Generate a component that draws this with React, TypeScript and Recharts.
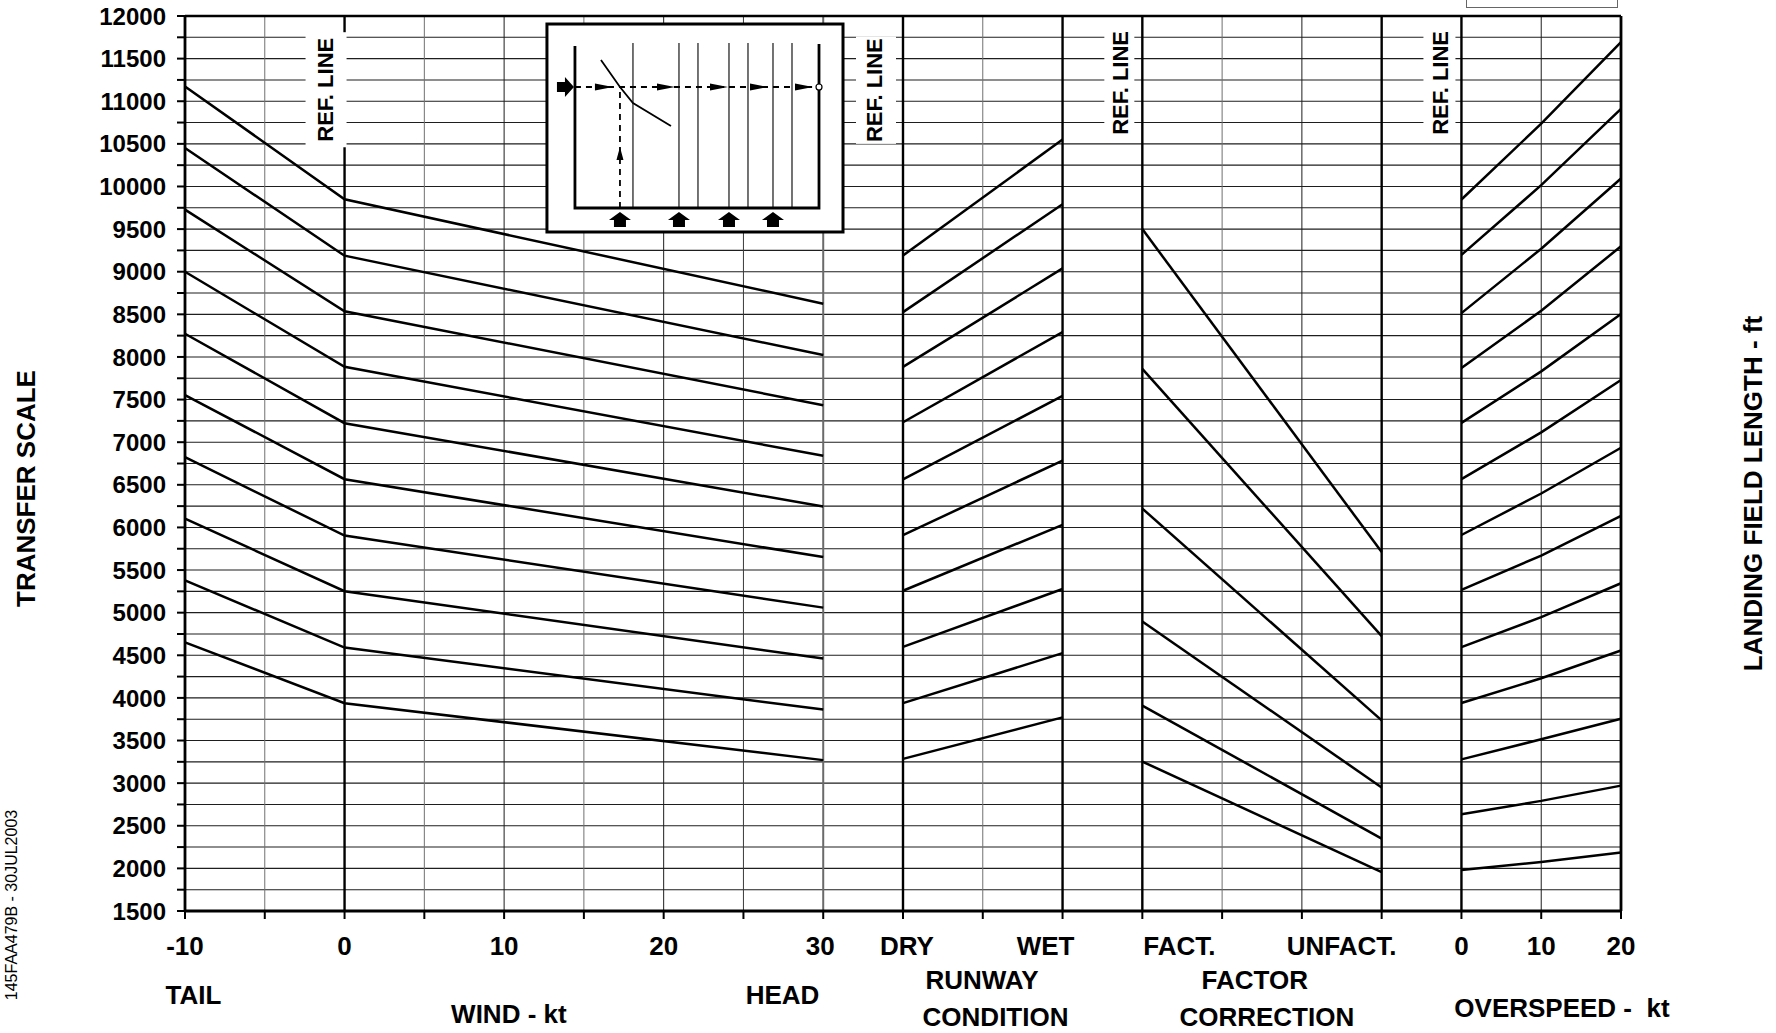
import React from 'react';
import {
  ComposedChart,
  Line,
  Scatter,
  XAxis,
  YAxis,
  CartesianGrid,
  ReferenceLine,
  ReferenceArea,
} from 'recharts';

const FONT = '"Liberation Sans", Arial, Helvetica, sans-serif';

// ---- axis ticks ----
const yTicks = [
  1500, 1750, 2000, 2250, 2500, 2750, 3000, 3250, 3500, 3750, 4000, 4250, 4500, 4750,
  5000, 5250, 5500, 5750, 6000, 6250, 6500, 6750, 7000, 7250, 7500, 7750, 8000, 8250,
  8500, 8750, 9000, 9250, 9500, 9750, 10000, 10250, 10500, 10750, 11000, 11250, 11500,
  11750, 12000,
];
// one column per grid division, left to right
const xTicks = [0, 1, 2, 3, 4, 5, 6, 7, 8, 9, 10, 11, 12, 13, 14, 15, 16, 17, 18];
const xTickLabels = [
  '-10', '', '0', '', '10', '', '20', '', '30',
  'DRY', '', 'WET',
  'FACT.', '', '', 'UNFACT.',
  '0', '10', '20',
];
const axisTitles = ['TAIL', 'WIND - kt', 'HEAD', 'RUNWAY', 'CONDITION', 'FACTOR', 'CORRECTION', 'OVERSPEED -  kt'];

// ---- wind correction (ft at -10, 0, 30 kt) ----
const windSpeeds = [-10, 0, 30];
const windTail = [11174, 10451, 9728, 8999, 8272, 7553, 6825, 6102, 5379, 4651];
const windRef = [9850, 9188, 8536, 7884, 7223, 6566, 5904, 5252, 4590, 3938];
const windHead = [8625, 8023, 7434, 6840, 6246, 5652, 5059, 4461, 3863, 3270];

// ---- runway condition (DRY -> WET) ----
const runwayDry = [9190, 8526, 7883, 7234, 6565, 5911, 5257, 4598, 3939, 3285];
const runwayWet = [10550, 9792, 9039, 8291, 7543, 6785, 6031, 5278, 4525, 3772];

// ---- factor correction (FACT. -> UNFACT.) ----
const factored = [9500, 7860, 6221, 4897, 3910, 3253];
const unfactored = [5711, 4724, 3737, 2949, 2350, 1956];

// ---- overspeed (0, 10, 20 kt) ----
const overspeeds = [0, 10, 20];
const over0 = [9847, 9197, 8514, 7870, 7227, 6566, 5911, 5267, 4595, 3940, 3279, 2635, 1980];
const over10 = [10737, 10015, 9270, 8542, 7831, 7115, 6398, 5670, 4948, 4231, 3514, 2792, 2075];
const over20 = [11694, 10910, 10093, 9298, 8503, 7730, 6935, 6135, 5345, 4556, 3755, 2971, 2187];

// section -> column mapping
const windX = (kt: number) => 2 + kt / 5;
const runwayX = (i: number) => 9 + 2 * i;
const factorX = (i: number) => 12 + 3 * i;
const overX = (kt: number) => 16 + kt / 10;

const series: { x: number; y: number }[][] = [
  ...windTail.map((_, i) =>
    [windTail[i], windRef[i], windHead[i]].map((y, j) => ({ x: windX(windSpeeds[j]), y }))
  ),
  ...runwayDry.map((y, i) => [
    { x: runwayX(0), y },
    { x: runwayX(1), y: runwayWet[i] },
  ]),
  ...factored.map((y, i) => [
    { x: factorX(0), y },
    { x: factorX(1), y: unfactored[i] },
  ]),
  ...over0.map((_, i) =>
    [over0[i], over10[i], over20[i]].map((y, j) => ({ x: overX(overspeeds[j]), y }))
  ),
];

// ---- layout / styling ----
const W = 1776;
const H = 1033;
const LEFT_W = 185;
const RIGHT_W = 155;
const X_AXIS_H = 122;

// pixel nudges for bottom tick labels
const tickShift: Record<number, number> = { 8: -3, 9: 4, 11: -17, 12: 37, 15: -40 };
// title anchors (in column units) and baseline drop below the axis line
const titleAt = [0.105, 4.06, 7.49, 9.99, 10.16, 13.41, 13.56, 17.26];
const titleDrop = [93, 112, 93, 78, 115, 78, 115, 106];
const titleData = axisTitles.map((label, i) => ({ x: titleAt[i], y: 1500, label, drop: titleDrop[i] }));

// vertical grid line styles per column
const vStyle: Record<number, [string, number]> = {
  1: ['#707070', 1], 2: ['#000', 2.4], 3: ['#707070', 1], 4: ['#1e1e1e', 1], 5: ['#707070', 1],
  6: ['#1e1e1e', 1], 7: ['#3a3a3a', 1], 8: ['#6a6a6a', 2], 9: ['#000', 2.4], 10: ['#707070', 1],
  11: ['#000', 2.4], 12: ['#000', 2.4], 13: ['#707070', 1], 14: ['#1e1e1e', 1], 15: ['#000', 2.4],
  16: ['#000', 2.4], 17: ['#1e1e1e', 1],
};

// "REF. LINE" label boxes: column, value range, box edges / text offset left of the line (px)
const refLabels = [
  { at: 2, top: 11810, bottom: 10460, left: 39, right: -2, text: 19 },
  { at: 9, top: 11760, bottom: 10500, left: 47, right: 7, text: 29 },
  { at: 12, top: 11810, bottom: 10620, left: 38, right: 8, text: 22 },
  { at: 16, top: 11800, bottom: 10630, left: 38, right: 6, text: 21 },
];

function LeftTick({ x, y, payload }: any) {
  if (payload.value % 500 !== 0) return null;
  return (
    <text x={x} y={y} dy="0.36em" textAnchor="end" fontFamily={FONT} fontWeight="bold" fontSize={24} fill="#000">
      {payload.value}
    </text>
  );
}

function RightTick({ x, y, payload }: any) {
  if (payload.value % 500 !== 0) return null;
  return (
    <text x={x} y={y} dy="0.36em" textAnchor="start" fontFamily={FONT} fontWeight="bold" fontSize={24} fill="#000">
      {payload.value}
    </text>
  );
}

function BottomTick({ x, y, payload }: any) {
  const i = payload.value;
  const label = xTickLabels[i];
  if (!label) return null;
  return (
    <text x={x + (tickShift[i] ?? 0)} y={y + 36} textAnchor="middle" fontFamily={FONT} fontWeight="bold" fontSize={26} fill="#000">
      {label}
    </text>
  );
}

function TitleShape(p: any) {
  const { cx, cy, payload } = p;
  return (
    <text
      x={cx}
      y={cy + payload.drop}
      textAnchor="middle"
      fontFamily={FONT}
      fontWeight="bold"
      fontSize={26}
      fill="#000"
      style={{ whiteSpace: 'pre' }}
    >
      {payload.label}
    </text>
  );
}

function AxisTitle({ viewBox, text, dx, shiftY, note }: any) {
  const vb = viewBox ?? { x: 0, y: 16, width: LEFT_W, height: 895 };
  const cx = vb.x + dx;
  const cy = vb.y + vb.height / 2 + shiftY;
  return (
    <g>
      <text
        x={cx}
        y={cy}
        dy="0.36em"
        textAnchor="middle"
        transform={`rotate(-90, ${cx}, ${cy})`}
        fontFamily={FONT}
        fontWeight="bold"
        fontSize={26}
        fill="#000"
      >
        {text}
      </text>
      {note && (
        <text
          x={vb.x + 11}
          y={905}
          dy="0.36em"
          textAnchor="middle"
          transform={`rotate(-90, ${vb.x + 11}, 905)`}
          fontFamily={FONT}
          fontSize={16}
          fill="#000"
        >
          {note}
        </text>
      )}
    </g>
  );
}

function RefLabel(cfg: (typeof refLabels)[number]) {
  return (p: any) => {
    const lineX = p.x + p.width;
    const cy = p.y + p.height / 2;
    const tx = lineX - cfg.text;
    return (
      <g>
        <rect x={lineX - cfg.left} y={p.y} width={cfg.left - cfg.right} height={p.height} fill="#fff" />
        <text
          x={tx}
          y={cy}
          dy="0.36em"
          textAnchor="middle"
          transform={`rotate(-90, ${tx}, ${cy})`}
          fontFamily={FONT}
          fontWeight="bold"
          fontSize={22}
          fill="#000"
        >
          REF. LINE
        </text>
      </g>
    );
  };
}

// small "how to read" pictogram, drawn in a 296 x 208 local frame
function InsetDiagram(p: any) {
  const sx = p.width / 296;
  const sy = p.height / 208;
  const tips = [66, 128, 181, 221, 266];
  const ups = [73, 132, 182, 226];
  return (
    <g transform={`translate(${p.x},${p.y}) scale(${sx},${sy})`}>
      <rect x={0} y={0} width={296} height={208} fill="#fff" stroke="#000" strokeWidth={3} />
      {[86, 132, 151, 182, 201, 226, 245].map((vx) => (
        <line key={vx} x1={vx} y1={19} x2={vx} y2={184} stroke="#000" strokeWidth={1.1} />
      ))}
      <polyline points="28,22 28,184 272,184 272,20" fill="none" stroke="#000" strokeWidth={2.8} />
      <polyline points="54,36 73,63 86,79 124,102" fill="none" stroke="#000" strokeWidth={1.8} />
      <line x1={28} y1={63} x2={268} y2={63} stroke="#000" strokeWidth={1.8} strokeDasharray="6 5" />
      <line x1={73} y1={184} x2={73} y2={63} stroke="#000" strokeWidth={1.8} strokeDasharray="6 5" />
      {tips.map((t) => (
        <polygon key={t} points={`${t - 18},59.5 ${t},63 ${t - 18},66.5`} fill="#000" />
      ))}
      <polygon points="69.5,136 73,123 76.5,136" fill="#000" />
      <circle cx={272} cy={63} r={3} fill="#fff" stroke="#000" strokeWidth={1.2} />
      <polygon points="10,58 18,58 18,53 27,63 18,73 18,68 10,68" fill="#000" />
      {ups.map((c) => (
        <polygon
          key={c}
          points={`${c - 6},203 ${c - 6},196 ${c - 11},196 ${c},188 ${c + 11},196 ${c + 6},196 ${c + 6},203`}
          fill="#000"
        />
      ))}
    </g>
  );
}

export default function App() {
  return (
    <div style={{ position: 'absolute', left: 0, top: 0, width: W, height: H, background: '#fff', overflow: 'hidden' }}>
      <div
        style={{
          position: 'absolute',
          left: 1466,
          top: -4,
          width: 152,
          height: 12,
          boxSizing: 'border-box',
          border: '1px solid #666',
        }}
      />
      <ComposedChart width={W} height={H} margin={{ top: 16, right: 0, bottom: 0, left: 0 }}>
        <CartesianGrid yAxisId="l" vertical={false} stroke="#1e1e1e" strokeWidth={1.1} />
        <XAxis
          dataKey="x"
          type="number"
          domain={[0, 18]}
          ticks={xTicks}
          interval={0}
          height={X_AXIS_H}
          axisLine={{ stroke: '#000', strokeWidth: 3 }}
          tickLine={{ stroke: '#000', strokeWidth: 2 }}
          tickSize={8}
          tickMargin={0}
          tick={<BottomTick />}
        />
        <YAxis
          yAxisId="l"
          type="number"
          domain={[1500, 12000]}
          ticks={yTicks}
          interval={0}
          width={LEFT_W}
          axisLine={{ stroke: '#000', strokeWidth: 2.8 }}
          tickLine={{ stroke: '#000', strokeWidth: 2 }}
          tickSize={8}
          tickMargin={11}
          tick={<LeftTick />}
          label={<AxisTitle text="TRANSFER SCALE" dx={26} shiftY={25} note="145FAA479B - 30JUL2003" />}
        />
        <YAxis
          yAxisId="r"
          orientation="right"
          type="number"
          domain={[1500, 12000]}
          ticks={yTicks}
          interval={0}
          width={RIGHT_W}
          axisLine={{ stroke: '#000', strokeWidth: 2.8 }}
          tickLine={{ stroke: '#000', strokeWidth: 2 }}
          tickSize={8}
          tickMargin={10}
          tick={<RightTick />}
          label={<AxisTitle text="LANDING FIELD LENGTH - ft" dx={132} shiftY={30} />}
        />

        {Object.keys(vStyle).map((k) => {
          const i = Number(k);
          return (
            <ReferenceLine
              key={`v${i}`}
              yAxisId="l"
              x={i}
              stroke={vStyle[i][0]}
              strokeWidth={vStyle[i][1]}
              zIndex={50}
            />
          );
        })}
        <ReferenceLine yAxisId="l" y={12000} stroke="#000" strokeWidth={2.4} zIndex={50} />

        {refLabels.map((r) => (
          <ReferenceArea
            key={`ref${r.at}`}
            yAxisId="l"
            x1={r.at - 0.6}
            x2={r.at}
            y1={r.bottom}
            y2={r.top}
            zIndex={150}
            shape={RefLabel(r)}
          />
        ))}
        <ReferenceArea yAxisId="l" x1={4.537} x2={8.248} y1={9466} y2={11906} zIndex={150} shape={InsetDiagram} />

        {series.map((d, i) => (
          <Line
            key={`s${i}`}
            yAxisId="l"
            data={d}
            dataKey="y"
            type="linear"
            stroke="#000"
            strokeWidth={2.5}
            dot={false}
            activeDot={false}
            isAnimationActive={false}
          />
        ))}
        <Scatter yAxisId="l" data={titleData} dataKey="y" shape={TitleShape} isAnimationActive={false} />
      </ComposedChart>
    </div>
  );
}
